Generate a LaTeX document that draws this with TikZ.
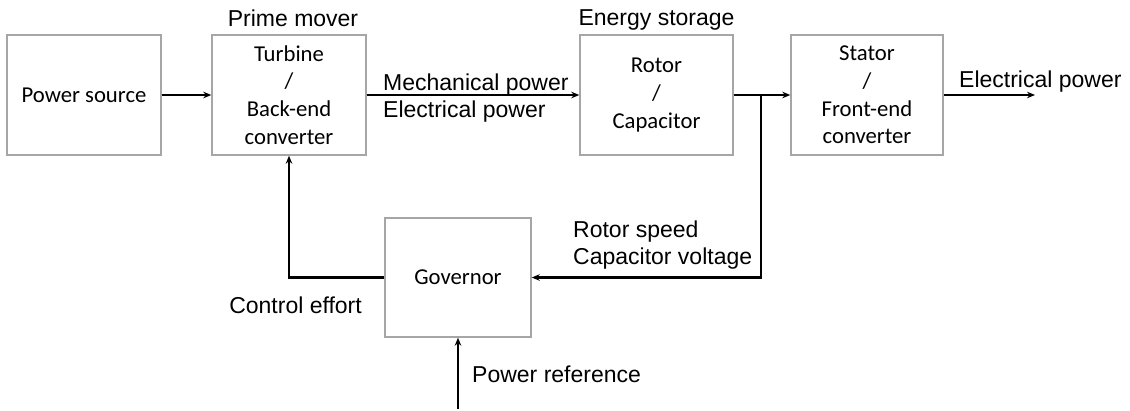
\documentclass[tikz,border=0pt]{standalone}
\usepackage{fontspec}
\setmainfont{Liberation Sans}
\newfontfamily\boxfont{Carlito}
\usetikzlibrary{arrows.meta}
\definecolor{boxgray}{RGB}{166,166,166}
\begin{document}
\begin{tikzpicture}[x=1pt,y=-1pt,
  blk/.style={draw=boxgray,line width=1.4pt,minimum width=154pt,minimum height=120pt,
    inner sep=0pt,align=center,font=\boxfont\fontsize{22.7}{27.8}\selectfont},
  lbl/.style={inner sep=0pt,font=\fontsize{23}{27.5}\selectfont},
  conn/.style={line width=2.2pt,-{Stealth[length=8pt,width=6.5pt]}},
  plain/.style={line width=2.2pt}]
\useasboundingbox (0,0) rectangle (1130,410);
\node[blk] (ps) at (84,95) {Power source};
\node[blk] (tb) at (289,95) {Turbine\\/\\Back-end\\converter};
\node[blk,minimum width=153pt] (rt) at (656.5,95) {Rotor\\/\\Capacitor};
\node[blk,minimum width=152pt] (st) at (867,95) {Stator\\/\\Front-end\\converter};
\node[blk,minimum width=146pt,minimum height=119pt] (gv) at (458,277.5) {Governor};
\coordinate (j) at (761,95);
\coordinate (out) at (1035,95);
\coordinate (pr) at (458,409);
% labels
\node[lbl,anchor=base] (pm) at (293,26.5) {Prime mover};
\node[lbl,anchor=base] (es) at (656.5,25) {Energy storage};
\node[lbl,anchor=base west] (mp) at (383,90) {Mechanical power};
\node[lbl,anchor=base west] (ep) at (383,117) {Electrical power};
\node[lbl,anchor=base west] (eo) at (959,87) {Electrical power};
\node[lbl,anchor=base west] (rs) at (573,237) {Rotor speed};
\node[lbl,anchor=base west] (cv) at (573,264) {Capacitor voltage};
\node[lbl,anchor=base east] (ce) at (362,313) {Control effort};
\node[lbl,anchor=base west] (pref) at (472,382) {Power reference};
% connectors
\draw[conn] (ps.east) -- (tb.west);
\draw[conn] (tb.east) -- (rt.west);
\draw[plain] (rt.east) -- (j);
\draw[conn] (j) -- (st.west);
\draw[conn] (st.east) -- (out);
\draw[conn] (j) |- (gv.east);
\draw[conn] (gv.west) -| (tb.south);
\draw[conn] (pr) -- (gv.south);
\end{tikzpicture}
\end{document}
